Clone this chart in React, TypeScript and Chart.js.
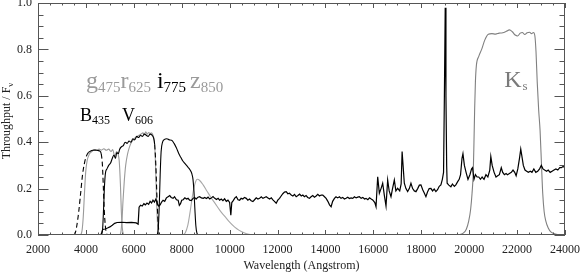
import React, { useEffect, useRef } from "react";
import { Chart, registerables } from "chart.js";

Chart.register(...registerables);

// ---------- axis ranges / ticks ----------
const X_MIN = 2000;
const X_MAX = 24000;
const X_STEP = 2000;
const X_MINOR = 500;
const Y_MIN = 0;
const Y_MAX = 1;
const Y_STEP = 0.2;
const Y_MINOR = 0.05;

// ---------- filter curves: [wavelength (Å), throughput] ----------
const b435: [number, number][] = [
  [2600, 0], [3500, 0], [3560, 0.01], [3620, 0.04], [3700, 0.1], [3780, 0.18], [3860, 0.26],
  [3940, 0.31], [4020, 0.34], [4100, 0.355], [4200, 0.362], [4300, 0.365], [4400, 0.366],
  [4500, 0.364], [4580, 0.362], [4640, 0.35], [4690, 0.3], [4730, 0.2], [4770, 0.1],
  [4810, 0.04], [4850, 0.01], [4900, 0],
];
const g475: [number, number][] = [
  [3780, 0], [3840, 0.02], [3890, 0.08], [3940, 0.18], [3990, 0.27], [4050, 0.32], [4150, 0.35],
  [4250, 0.36], [4350, 0.368], [4450, 0.365], [4550, 0.37], [4650, 0.366], [4750, 0.372],
  [4850, 0.365], [4950, 0.37], [5050, 0.36], [5120, 0.368], [5200, 0.34], [5280, 0.36],
  [5340, 0.35], [5390, 0.32], [5440, 0.22], [5480, 0.1], [5520, 0.03], [5570, 0],
];
const v606: [number, number][] = [
  [4650, 0], [4700, 0.03], [4740, 0.12], [4780, 0.22], [4820, 0.27], [4880, 0.285], [4950, 0.3],
  [5030, 0.31], [5100, 0.33], [5170, 0.345], [5230, 0.33], [5290, 0.355], [5350, 0.35],
  [5410, 0.37], [5480, 0.38], [5560, 0.385], [5640, 0.4], [5720, 0.395], [5800, 0.405],
  [5880, 0.4], [5960, 0.415], [6040, 0.41], [6120, 0.425], [6200, 0.42], [6280, 0.43],
  [6360, 0.425], [6440, 0.435], [6520, 0.43], [6600, 0.425], [6680, 0.435], [6760, 0.43],
  [6820, 0.42], [6870, 0.39], [6920, 0.3], [6960, 0.18], [7000, 0.08], [7040, 0.02], [7080, 0],
];
const r625: [number, number][] = [
  [5430, 0], [5470, 0.02], [5510, 0.07], [5550, 0.15], [5600, 0.23], [5660, 0.3], [5740, 0.35],
  [5820, 0.38], [5900, 0.4], [5980, 0.41], [6060, 0.42], [6140, 0.425], [6220, 0.43],
  [6300, 0.435], [6380, 0.44], [6440, 0.432], [6500, 0.445], [6560, 0.435], [6620, 0.442],
  [6680, 0.438], [6740, 0.44], [6800, 0.43], [6850, 0.41], [6890, 0.35], [6930, 0.22],
  [6970, 0.09], [7010, 0.025], [7060, 0],
];
const i775: [number, number][] = [
  [6980, 0], [7020, 0.03], [7060, 0.12], [7100, 0.26], [7140, 0.36], [7200, 0.4], [7280, 0.412],
  [7380, 0.415], [7480, 0.41], [7580, 0.408], [7680, 0.395], [7780, 0.375], [7880, 0.35],
  [7960, 0.335], [8040, 0.32], [8120, 0.31], [8200, 0.3], [8280, 0.29], [8350, 0.28],
  [8420, 0.265], [8470, 0.24], [8510, 0.19], [8550, 0.11], [8590, 0.04], [8630, 0.01], [8680, 0],
];
const z850: [number, number][] = [
  [8050, 0], [8150, 0.01], [8250, 0.04], [8350, 0.1], [8450, 0.17], [8550, 0.22], [8650, 0.24],
  [8750, 0.235], [8900, 0.215], [9050, 0.19], [9200, 0.165], [9400, 0.135], [9600, 0.105],
  [9800, 0.08], [10000, 0.055], [10200, 0.035], [10400, 0.02], [10600, 0.01], [10800, 0.003],
  [11000, 0],
];
const ks: [number, number][] = [
  [19300, 0], [19600, 0.002], [19750, 0.008], [19880, 0.025], [19980, 0.06], [20060, 0.11],
  [20120, 0.18], [20170, 0.27], [20200, 0.4], [20230, 0.55], [20260, 0.66], [20300, 0.73],
  [20400, 0.77], [20520, 0.8], [20650, 0.84], [20800, 0.865], [20950, 0.868], [21100, 0.866],
  [21250, 0.87], [21400, 0.872], [21550, 0.878], [21680, 0.884], [21800, 0.876], [21920, 0.862],
  [22020, 0.858], [22130, 0.87], [22220, 0.873], [22320, 0.864], [22420, 0.872], [22520, 0.874],
  [22600, 0.868], [22680, 0.873], [22740, 0.86], [22790, 0.79], [22840, 0.66], [22900, 0.54],
  [22960, 0.45], [23020, 0.3], [23070, 0.18], [23130, 0.1], [23200, 0.06], [23300, 0.03],
  [23420, 0.012], [23600, 0.004], [23900, 0],
];

// ---------- galaxy spectrum: [wavelength (Å), F_nu] ----------
const spectrum: [number, number][] = [
  [2570, 0], [4580, 0], [4650, 0.005], [4700, 0.024], [4800, 0.026], [4900, 0.03], [5000, 0.035],
  [5100, 0.042], [5200, 0.05], [5300, 0.054], [5500, 0.055], [5700, 0.053], [5900, 0.054],
  [6100, 0.052], [6180, 0.047], [6220, 0.12], [6280, 0.128], [6350, 0.125], [6420, 0.135],
  [6480, 0.13], [6550, 0.138], [6620, 0.132], [6680, 0.145], [6740, 0.138], [6800, 0.15],
  [6860, 0.142], [6920, 0.155], [6980, 0.135], [7040, 0.125], [7100, 0.13], [7160, 0.142],
  [7220, 0.15], [7290, 0.145], [7360, 0.16], [7430, 0.165], [7500, 0.17], [7560, 0.162],
  [7640, 0.158], [7700, 0.165], [7780, 0.152], [7850, 0.15], [7900, 0.128], [7950, 0.135],
  [8000, 0.15], [8060, 0.152], [8130, 0.16], [8200, 0.155], [8264, 0.158], [8330, 0.15],
  [8400, 0.148], [8470, 0.158], [8540, 0.162], [8600, 0.155], [8680, 0.163], [8750, 0.165],
  [8820, 0.16], [8900, 0.158], [8960, 0.162], [9030, 0.157], [9100, 0.163], [9170, 0.155],
  [9240, 0.16], [9306, 0.166], [9380, 0.158], [9450, 0.153], [9520, 0.158], [9583, 0.15],
  [9650, 0.155], [9720, 0.148], [9790, 0.156], [9861, 0.145], [9930, 0.15], [10000, 0.14],
  [10050, 0.085], [10090, 0.14], [10150, 0.148], [10220, 0.16], [10280, 0.165], [10350, 0.152],
  [10417, 0.15], [10480, 0.158], [10550, 0.155], [10620, 0.162], [10694, 0.158], [10760, 0.15],
  [10830, 0.155], [10900, 0.148], [10972, 0.144], [11040, 0.152], [11110, 0.16], [11180, 0.155],
  [11250, 0.158], [11320, 0.165], [11390, 0.158], [11460, 0.162], [11528, 0.165], [11600, 0.16],
  [11670, 0.155], [11740, 0.16], [11806, 0.151], [11870, 0.145], [11944, 0.137], [12010, 0.15],
  [12083, 0.158], [12150, 0.168], [12220, 0.178], [12290, 0.185], [12361, 0.187], [12430, 0.178],
  [12500, 0.18], [12570, 0.172], [12640, 0.168], [12710, 0.175], [12778, 0.165], [12850, 0.17],
  [12920, 0.176], [12990, 0.168], [13056, 0.172], [13120, 0.165], [13190, 0.17], [13260, 0.162],
  [13333, 0.158], [13400, 0.165], [13470, 0.17], [13540, 0.163], [13611, 0.168], [13680, 0.175],
  [13750, 0.168], [13820, 0.172], [13889, 0.172], [13960, 0.165], [14028, 0.158], [14100, 0.145],
  [14170, 0.13], [14236, 0.122], [14300, 0.145], [14375, 0.158], [14440, 0.165], [14510, 0.16],
  [14583, 0.165], [14650, 0.158], [14720, 0.162], [14790, 0.155], [14861, 0.158], [14930, 0.163],
  [15000, 0.157], [15070, 0.16], [15139, 0.158], [15210, 0.165], [15280, 0.16], [15350, 0.163],
  [15417, 0.165], [15490, 0.158], [15560, 0.162], [15630, 0.155], [15694, 0.158], [15770, 0.152],
  [15840, 0.16], [15910, 0.155], [15972, 0.151], [16060, 0.14], [16111, 0.122], [16181, 0.251],
  [16250, 0.18], [16320, 0.2], [16389, 0.223], [16460, 0.17], [16528, 0.125], [16597, 0.237],
  [16660, 0.19], [16736, 0.165], [16800, 0.2], [16875, 0.237], [16940, 0.19], [17014, 0.201],
  [17100, 0.19], [17160, 0.22], [17200, 0.36], [17240, 0.3], [17292, 0.223], [17360, 0.2],
  [17431, 0.187], [17500, 0.2], [17569, 0.223], [17640, 0.2], [17710, 0.19], [17778, 0.187],
  [17850, 0.2], [17920, 0.215], [17986, 0.216], [18060, 0.195], [18130, 0.18], [18194, 0.165],
  [18260, 0.185], [18330, 0.2], [18403, 0.201], [18470, 0.19], [18540, 0.198], [18611, 0.187],
  [18680, 0.195], [18750, 0.21], [18819, 0.216], [18880, 0.24], [18930, 0.27], [18965, 0.6],
  [19000, 0.98], [19030, 0.6], [19060, 0.3], [19080, 0.223], [19150, 0.215], [19236, 0.208],
  [19300, 0.22], [19380, 0.21], [19444, 0.216], [19520, 0.23], [19583, 0.24], [19640, 0.26],
  [19700, 0.33], [19740, 0.35], [19800, 0.3], [19870, 0.27], [19950, 0.24], [20030, 0.26],
  [20100, 0.285], [20140, 0.29], [20200, 0.24], [20260, 0.26], [20330, 0.25], [20400, 0.25],
  [20470, 0.24], [20540, 0.25], [20620, 0.24], [20700, 0.26], [20780, 0.25], [20860, 0.28],
  [20903, 0.338], [20960, 0.3], [21040, 0.27], [21120, 0.25], [21190, 0.255], [21260, 0.26],
  [21340, 0.29], [21400, 0.27], [21470, 0.26], [21540, 0.265], [21600, 0.26], [21680, 0.265],
  [21760, 0.27], [21830, 0.28], [21900, 0.27], [21960, 0.255], [22030, 0.285], [22100, 0.33],
  [22153, 0.37], [22200, 0.34], [22260, 0.3], [22330, 0.28], [22400, 0.275], [22470, 0.27],
  [22550, 0.275], [22620, 0.27], [22700, 0.285], [22780, 0.27], [22860, 0.275], [22940, 0.285],
  [23010, 0.3], [23080, 0.285], [23150, 0.28], [23230, 0.275], [23300, 0.28], [23380, 0.27],
  [23460, 0.275], [23540, 0.28], [23620, 0.285], [23700, 0.28], [23780, 0.29], [23850, 0.29],
  [23920, 0.295], [24000, 0.29],
];

// wavelength ranges drawn dashed
const b435Dashed: [number, number][] = [[3400, 4060], [4660, 4950]];
const v606Dashed: [number, number][] = [[6880, 7150]];

// ---------- in-plot labels ----------
type Part = { text: string; sub: boolean; color: string; gap?: number };
const GRAY = "#9a9a9a";
const KS_GRAY = "#7a7a7a";
const filterLabel: Part[] = [
  { text: "g", sub: false, color: GRAY }, { text: "475", sub: true, color: GRAY },
  { text: "r", sub: false, color: GRAY }, { text: "625", sub: true, color: GRAY },
  { text: "i", sub: false, color: "#000", gap: 6 }, { text: "775", sub: true, color: "#000" },
  { text: "z", sub: false, color: GRAY, gap: 4 }, { text: "850", sub: true, color: GRAY },
];
const bvLabel: Part[] = [
  { text: "B", sub: false, color: "#000" }, { text: "435", sub: true, color: "#000" },
  { text: "V", sub: false, color: "#000", gap: 12 }, { text: "606", sub: true, color: "#000" },
];
const ksLabel: Part[] = [
  { text: "K", sub: false, color: KS_GRAY }, { text: "s", sub: true, color: KS_GRAY, gap: 1 },
];
const filterLabelAt = { wave: 4000, thru: 0.634 };
const bvLabelAt = { wave: 3750, thru: 0.49 };
const ksLabelAt = { wave: 21460, thru: 0.638 };

const X_TITLE = "Wavelength (Angstrom)";
const Y_TITLE = "Throughput / F";
const Y_TITLE_SUB = "\u03bd";

const FONT = "'Liberation Serif', 'DejaVu Serif', serif";
const AXIS_COLOR = "#555";
const TEXT_COLOR = "#222";

function inRanges(x: number, ranges: [number, number][]) {
  return ranges.some(([a, b]) => x >= a && x <= b);
}

function drawParts(ctx: CanvasRenderingContext2D, parts: Part[], x: number, y: number, main: number, sub: number, subDy: number) {
  let cx = x;
  for (const p of parts) {
    cx += p.gap || 0;
    ctx.font = `${p.sub ? sub : main}px ${FONT}`;
    ctx.fillStyle = p.color;
    ctx.fillText(p.text, cx, p.sub ? y + subDy : y);
    cx += ctx.measureText(p.text).width;
  }
}

const decor = {
  id: "decor",
  afterDraw(chart: any) {
    const { ctx, chartArea: a, scales } = chart;
    const xs = scales.x;
    const ys = scales.y;
    ctx.save();
    ctx.strokeStyle = AXIS_COLOR;
    ctx.lineWidth = 1;
    ctx.strokeRect(a.left + 0.5, a.top + 0.5, a.right - a.left - 1, a.bottom - a.top - 1);
    ctx.beginPath();
    for (let v = X_MIN; v <= X_MAX + 1e-6; v += X_MINOR) {
      const px = Math.round(xs.getPixelForValue(v)) + 0.5;
      const len = Math.abs(v % X_STEP) < 1e-6 ? 5 : 2.5;
      ctx.moveTo(px, a.bottom); ctx.lineTo(px, a.bottom - len);
      ctx.moveTo(px, a.top); ctx.lineTo(px, a.top + len);
    }
    const nMinor = Math.round((Y_MAX - Y_MIN) / Y_MINOR);
    const per = Math.round(Y_STEP / Y_MINOR);
    for (let k = 0; k <= nMinor; k++) {
      const v = Y_MIN + k * Y_MINOR;
      const py = Math.round(ys.getPixelForValue(v)) + 0.5;
      const len = k % per === 0 ? 10.5 : 5.5;
      ctx.moveTo(a.left, py); ctx.lineTo(a.left + len, py);
      ctx.moveTo(a.right, py); ctx.lineTo(a.right - len, py);
    }
    ctx.stroke();

    // axis titles
    ctx.fillStyle = TEXT_COLOR;
    ctx.textBaseline = "alphabetic";
    ctx.font = `12px ${FONT}`;
    ctx.textAlign = "center";
    ctx.fillText(X_TITLE, (a.left + a.right) / 2, 269);
    ctx.save();
    ctx.translate(10, (a.top + a.bottom) / 2 + 2);
    ctx.rotate(-Math.PI / 2);
    ctx.textAlign = "left";
    const w1 = ctx.measureText(Y_TITLE).width;
    ctx.font = `9px ${FONT}`;
    const w2 = ctx.measureText(Y_TITLE_SUB).width;
    ctx.font = `12px ${FONT}`;
    const start = -(w1 + w2) / 2;
    ctx.fillText(Y_TITLE, start, 0);
    ctx.font = `9px ${FONT}`;
    ctx.fillText(Y_TITLE_SUB, start + w1, 3);
    ctx.restore();

    // in-plot labels
    ctx.textAlign = "left";
    drawParts(ctx, filterLabel, xs.getPixelForValue(filterLabelAt.wave), ys.getPixelForValue(filterLabelAt.thru), 24, 15, 4);
    drawParts(ctx, bvLabel, xs.getPixelForValue(bvLabelAt.wave), ys.getPixelForValue(bvLabelAt.thru), 18, 12, 3);
    drawParts(ctx, ksLabel, xs.getPixelForValue(ksLabelAt.wave), ys.getPixelForValue(ksLabelAt.thru), 24, 13, 3);
    ctx.restore();
  },
};

function toXY(points: [number, number][]) {
  return points.map(([x, y]) => ({ x, y }));
}

export default function App() {
  const ref = useRef<HTMLCanvasElement | null>(null);
  useEffect(() => {
    if (!ref.current) return;
    const filterDs = (label: string, pts: [number, number][], color: string, dashed: [number, number][] = [], order = 2) => ({
      label,
      data: toXY(pts),
      borderColor: color,
      borderWidth: 1.1,
      pointRadius: 0,
      fill: false,
      cubicInterpolationMode: "monotone" as const,
      order,
      segment: {
        borderDash: (c: any) => (inRanges((c.p0.parsed.x + c.p1.parsed.x) / 2, dashed) ? [5, 3] : undefined),
      },
    });
    const chart = new Chart(ref.current, {
      type: "line",
      data: {
        datasets: [
          {
            label: "spectrum",
            data: toXY(spectrum),
            borderColor: "#000",
            borderWidth: 1.2,
            pointRadius: 0,
            fill: false,
            tension: 0,
            order: 0,
          },
          filterDs("B435", b435, "#000", b435Dashed, 1),
          filterDs("V606", v606, "#000", v606Dashed, 1),
          filterDs("i775", i775, "#000", [], 1),
          filterDs("g475", g475, GRAY),
          filterDs("r625", r625, GRAY),
          filterDs("z850", z850, "#a8a8a8"),
          filterDs("Ks", ks, "#808080"),
        ],
      },
      options: {
        responsive: false,
        animation: false,
        layout: { padding: { top: 3, right: 16, left: 0, bottom: 0 } },
        plugins: { legend: { display: false }, tooltip: { enabled: false } },
        scales: {
          x: {
            type: "linear",
            min: X_MIN,
            max: X_MAX,
            grid: { display: false, drawTicks: false },
            border: { display: false },
            afterFit: (s: any) => { s.height = 38; s.paddingLeft = 0; s.paddingRight = 0; },
            afterBuildTicks: (s: any) => {
              const t = [];
              for (let v = X_MIN; v <= X_MAX; v += X_STEP) t.push({ value: v });
              s.ticks = t;
            },
            ticks: {
              autoSkip: false,
              maxRotation: 0,
              padding: 8,
              color: TEXT_COLOR,
              font: { family: FONT, size: 12 },
              callback: (v: any) => String(v),
            },
          },
          y: {
            type: "linear",
            min: Y_MIN,
            max: Y_MAX,
            grid: { display: false, drawTicks: false },
            border: { display: false },
            afterFit: (s: any) => { s.width = 38; s.paddingTop = 0; s.paddingBottom = 0; },
            afterBuildTicks: (s: any) => {
              const t = [];
              for (let k = 0; k <= Math.round((Y_MAX - Y_MIN) / Y_STEP); k++) t.push({ value: Y_MIN + k * Y_STEP });
              s.ticks = t;
            },
            ticks: {
              padding: 6,
              color: TEXT_COLOR,
              font: { family: FONT, size: 12 },
              callback: (v: any) => Number(v).toFixed(1),
            },
          },
        },
      },
      plugins: [decor],
    });
    return () => chart.destroy();
  }, []);
  return (
    <div style={{ position: "fixed", left: 0, top: 0, width: 581, height: 273, background: "#fff" }}>
      <canvas ref={ref} width={581} height={273} style={{ display: "block", width: 581, height: 273 }} />
    </div>
  );
}
